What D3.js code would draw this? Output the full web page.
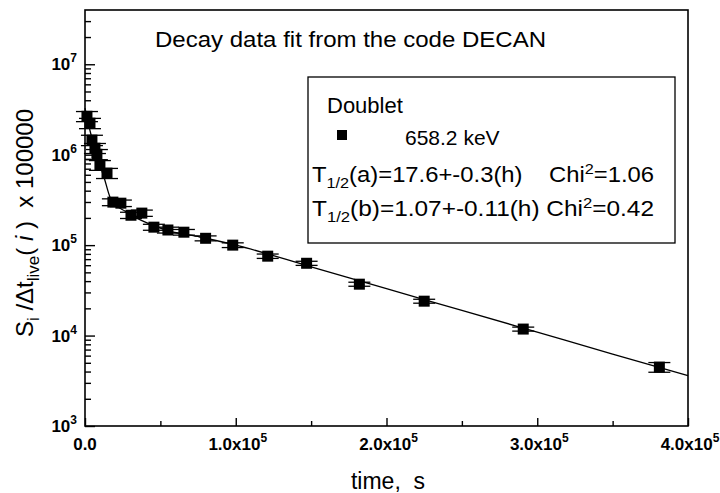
<!DOCTYPE html>
<html>
<head>
<meta charset="utf-8">
<script src="https://cdn.jsdelivr.net/npm/d3@7"></script>
<style>
body { margin: 0; background: #fff; }
svg { font-family: "Liberation Sans", Arial, sans-serif; }
text { white-space: pre; }
</style>
</head>
<body>
<svg id="chart" width="720" height="493"></svg>
<script>
// measured points (time in s, Si/dt * 1e5)
const times = [1300, 3300, 4600, 6600, 7900, 9900, 14600, 18500, 23800, 30500, 37700, 45700, 55000, 65600, 80000, 98000, 121200, 147000, 182000, 225000, 290700, 381000]
const values = [2.66e6, 2.23e6, 1.45e6, 1.18e6, 1.01e6, 7.66e5, 6.25e5, 2.99e5, 2.91e5, 2.14e5, 2.26e5, 1.58e5, 1.47e5, 1.39e5, 1.19e5, 1.0e5, 7.55e4, 6.3e4, 3.7e4, 2.4e4, 1.18e4, 4.48e3]
const errors = [3.4e5, 2.9e5, 1.9e5, 1.5e5, 1.3e5, 9.5e4, 8e4, 2.6e4, 2.4e4, 1.7e4, 1.8e4, 1.2e4, 1.1e4, 1e4, 7.5e3, 6e3, 4.2e3, 3.3e3, 1.9e3, 1.2e3, 6e2, 5.5e2]

// fitted curve
const fitTime = [0, 2000, 4600, 7300, 9900, 12600, 16600, 20500, 26500, 33100, 43000, 56300, 76200, 100000, 150000, 200000, 250000, 300000, 350000, 400000]
const fitValue = [3.27e6, 2.29e6, 1.52e6, 1.07e6, 7.66e5, 5.64e5, 3.39e5, 2.77e5, 2.38e5, 2.04e5, 1.71e5, 1.43e5, 1.23e5, 1.0e5, 5.75e4, 3.3e4, 1.9e4, 1.09e4, 6.25e3, 3.6e3]

const xTicks = [0, 100000, 200000, 300000, 400000]
const xTickLabels = ["0.0", "1.0x10", "2.0x10", "3.0x10", "4.0x10"]
const yTicks = [1e3, 1e4, 1e5, 1e6, 1e7]

const svg = d3.select("#chart")
const plotL = 85, plotR = 688, plotT = 10, plotB = 426

const x = d3.scaleLinear().domain([0, 400000]).range([plotL, plotR])
const y = d3.scaleLog().domain([1e3, Math.pow(10, 7.6)]).range([plotB, plotT])

// frame
svg.append("rect")
    .attr("x", plotL)
    .attr("y", plotT)
    .attr("width", plotR - plotL)
    .attr("height", plotB - plotT)
    .style("fill", "none")
    .style("stroke", "black")
    .style("stroke-width", 1.6)

// y axis ticks (inside)
let minor = []
for (let e = 3; e <= 7; e++) {
    for (let m = 2; m <= 9; m++) {
        let v = m * Math.pow(10, e)
        if (v <= y.domain()[1]) minor.push(v)
    }
}
svg.append("g")
    .attr("transform", `translate(${plotL},0)`)
    .call(d3.axisRight(y).tickValues(minor).tickSize(6).tickFormat(""))
    .call(g => g.select(".domain").remove())
svg.append("g")
    .attr("transform", `translate(${plotL},0)`)
    .call(d3.axisRight(y).tickValues(yTicks).tickSize(10).tickFormat(""))
    .call(g => g.select(".domain").remove())

const yLab = svg.append("g")
    .selectAll("text")
    .data(yTicks)
    .enter()
    .append("text")
    .attr("x", 77)
    .attr("y", d => y(d) + 6)
    .style("text-anchor", "end")
    .style("font-size", "17px")
    .style("font-weight", "bold")
yLab.append("tspan").text("10")
yLab.append("tspan")
    .attr("dy", -8)
    .style("font-size", "12px")
    .text(d => Math.round(Math.log10(d)))

// x axis ticks (inside)
svg.append("g")
    .attr("transform", `translate(0,${plotB})`)
    .call(d3.axisTop(x).tickValues([50000, 150000, 250000, 350000]).tickSize(5).tickFormat(""))
    .call(g => g.select(".domain").remove())
svg.append("g")
    .attr("transform", `translate(0,${plotB})`)
    .call(d3.axisTop(x).tickValues(xTicks).tickSize(8).tickFormat(""))
    .call(g => g.select(".domain").remove())
svg.selectAll("g.tick line").style("stroke-width", 1.4)

const xLab = svg.append("g")
    .selectAll("text")
    .data(xTicks)
    .enter()
    .append("text")
    .attr("x", (d, i) => x(d) + (i == 0 ? 0 : 2))
    .attr("y", 450)
    .style("text-anchor", "middle")
    .style("font-size", "17px")
    .style("font-weight", "bold")
xLab.append("tspan").text((d, i) => xTickLabels[i])
xLab.append("tspan")
    .attr("dy", -8)
    .style("font-size", "12px")
    .text((d, i) => i == 0 ? "" : "5")

// axis titles
svg.append("text")
    .attr("x", 388)
    .attr("y", 489)
    .style("text-anchor", "middle")
    .style("font-size", "23px")
    .text("time,  s")

const yTitle = svg.append("text")
    .attr("transform", "translate(33,223) rotate(-90)")
    .style("text-anchor", "middle")
    .style("font-size", "24px")
yTitle.append("tspan").text("S")
yTitle.append("tspan").attr("dy", 6).style("font-size", "17px").text("i")
yTitle.append("tspan").attr("dy", -6).text(" /\u0394t")
yTitle.append("tspan").attr("dy", 6).style("font-size", "17px").text("live")
yTitle.append("tspan").attr("dy", -6).text("( ")
yTitle.append("tspan").style("font-style", "italic").text("i")
yTitle.append("tspan").text(" )  x 100000")

// chart title
svg.append("text")
    .attr("x", 155)
    .attr("y", 47)
    .attr("textLength", 391)
    .attr("lengthAdjust", "spacingAndGlyphs")
    .style("font-size", "22px")
    .text("Decay data fit from the code DECAN")

// fit curve
const line = d3.line()
    .x((d, i) => x(fitTime[i]))
    .y(d => y(d))
    .curve(d3.curveMonotoneX)
svg.append("path")
    .datum(fitValue)
    .attr("d", line)
    .style("fill", "none")
    .style("stroke", "black")
    .style("stroke-width", 1.3)

// points with error bars
const pts = svg.append("g")
    .selectAll("g")
    .data(values)
    .enter()
    .append("g")
    .attr("transform", (d, i) => `translate(${x(times[i])},0)`)

pts.append("line")
    .attr("y1", (d, i) => y(d - errors[i]))
    .attr("y2", (d, i) => y(d + errors[i]))
    .style("stroke", "black")
    .style("stroke-width", 1.3)
pts.append("line")
    .attr("x1", -11).attr("x2", 11)
    .attr("y1", (d, i) => y(d + errors[i]))
    .attr("y2", (d, i) => y(d + errors[i]))
    .style("stroke", "black")
    .style("stroke-width", 1.3)
pts.append("line")
    .attr("x1", -11).attr("x2", 11)
    .attr("y1", (d, i) => y(d - errors[i]))
    .attr("y2", (d, i) => y(d - errors[i]))
    .style("stroke", "black")
    .style("stroke-width", 1.3)
pts.append("rect")
    .attr("x", -5.5)
    .attr("y", d => y(d) - 5.5)
    .attr("width", 11)
    .attr("height", 11)
    .style("fill", "black")

// legend box
svg.append("rect")
    .attr("x", 308)
    .attr("y", 77)
    .attr("width", 367)
    .attr("height", 166)
    .style("fill", "white")
    .style("stroke", "black")
    .style("stroke-width", 1.3)

svg.append("text")
    .attr("x", 327)
    .attr("y", 113)
    .style("font-size", "22px")
    .text("Doublet")
svg.append("rect")
    .attr("x", 337)
    .attr("y", 130)
    .attr("width", 10)
    .attr("height", 10)
    .style("fill", "black")
svg.append("text")
    .attr("x", 405)
    .attr("y", 145)
    .style("font-size", "21px")
    .text("658.2 keV")

const fitLines = [
    ["(a)=17.6+-0.3(h)    Chi", "=1.06"],
    ["(b)=1.07+-0.11(h) Chi", "=0.42"]
]
const fl = svg.append("g")
    .selectAll("text")
    .data(fitLines)
    .enter()
    .append("text")
    .attr("x", 312)
    .attr("y", (d, i) => 182 + i * 34)
    .attr("textLength", 342)
    .attr("lengthAdjust", "spacingAndGlyphs")
    .style("font-size", "22px")
fl.append("tspan").text("T")
fl.append("tspan").attr("dy", 6).style("font-size", "15px").text("1/2")
fl.append("tspan").attr("dy", -6).text(d => d[0])
fl.append("tspan").attr("dy", -8).style("font-size", "15px").text("2")
fl.append("tspan").attr("dy", 8).text(d => d[1])
</script>
</body>
</html>
